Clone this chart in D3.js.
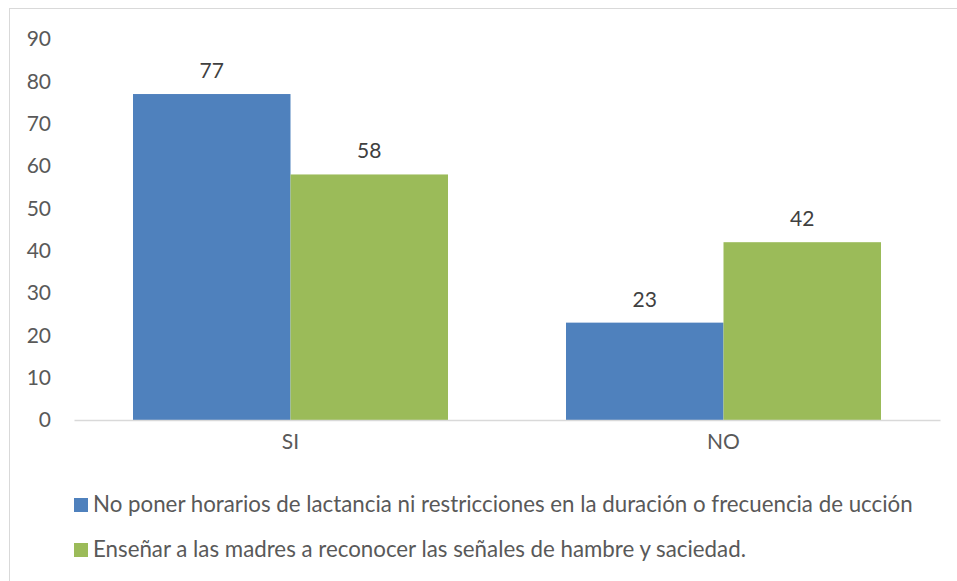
<!DOCTYPE html>
<html>
<head>
<meta charset="UTF-8" />
<script src="https://d3js.org/d3.v7.min.js"></script>
<style>
body { margin: 0; background: #fff; }
text { font-family: Lato, "Open Sans", sans-serif; }
</style>
</head>
<body>
<script>

// categories and series
var categories = ["SI", "NO"];
var seriesNames = [
  "No poner horarios de lactancia ni restricciones en la duración o frecuencia de ucción",
  "Enseñar a las madres a reconocer las señales de hambre y saciedad."
];
var horarios = [77, 23];
var senales = [58, 42];
var yTicks = [0, 10, 20, 30, 40, 50, 60, 70, 80, 90];
var colors = ["#4f81bd", "#9bbb59"];

var W = 957, H = 581;
var fs = "21px";

var svg = d3.select("body").append("svg")
    .attr("width", W)
    .attr("height", H);

// chart border
svg.append("rect")
    .attr("x", 9.5).attr("y", 8.5)
    .attr("width", 960).attr("height", 590)
    .attr("fill", "none")
    .attr("stroke", "#d9d9d9");

var plotLeft = 74, plotRight = 940, plotTop = 39, plotBottom = 420;

var x0 = d3.scaleBand().domain(categories).range([plotLeft, plotRight]).padding(0);
var x1 = d3.scaleBand().domain([0, 1]).range([0, x0.bandwidth()])
    .paddingInner(0).paddingOuter(0.3746);
var y = d3.scaleLinear().domain([0, 90]).range([plotBottom, plotTop]);

// y axis labels only
var yAxis = svg.append("g")
    .attr("transform", "translate(" + plotLeft + ",0)")
    .call(d3.axisLeft(y).tickValues(yTicks).tickSize(0).tickPadding(23));
yAxis.select(".domain").remove();
yAxis.selectAll("text")
    .attr("fill", "#595959")
    .style("font-size", fs);

var table = categories.map(function(c, i) {
  return {cat: c, vals: [horarios[i], senales[i]]};
});

var groups = svg.selectAll(".grp")
    .data(table)
    .enter().append("g")
    .attr("transform", function(d) { return "translate(" + x0(d.cat) + ",0)"; });

groups.selectAll("rect")
    .data(function(d) { return d.vals; })
    .enter().append("rect")
    .attr("x", function(d, i) { return x1(i); })
    .attr("width", x1.bandwidth())
    .attr("y", function(d) { return y(d); })
    .attr("height", function(d) { return y(0) - y(d); })
    .attr("fill", function(d, i) { return colors[i]; });

groups.selectAll(".lbl")
    .data(function(d) { return d.vals; })
    .enter().append("text")
    .attr("x", function(d, i) { return x1(i) + x1.bandwidth() / 2; })
    .attr("y", function(d) { return y(d) - 16; })
    .attr("text-anchor", "middle")
    .attr("fill", "#404040")
    .style("font-size", fs)
    .text(function(d) { return d; });

// x axis
var xAxis = svg.append("g")
    .attr("transform", "translate(0," + plotBottom + ")")
    .call(d3.axisBottom(x0).tickSize(0).tickPadding(14));
xAxis.select(".domain").attr("stroke", "#d9d9d9").attr("stroke-width", 1.5);
xAxis.selectAll("text")
    .attr("fill", "#595959")
    .style("font-size", fs);

// legend
var legend = svg.selectAll(".leg")
    .data(seriesNames)
    .enter().append("g")
    .attr("transform", function(d, i) { return "translate(74," + (498 + i * 45) + ")"; });

legend.append("rect")
    .attr("width", 14).attr("height", 14)
    .attr("fill", function(d, i) { return colors[i]; });

legend.append("text")
    .attr("x", 19)
    .attr("y", 14)
    .attr("fill", "#595959")
    .style("font-size", "22.3px")
    .text(function(d) { return d; });

</script>
</body>
</html>
